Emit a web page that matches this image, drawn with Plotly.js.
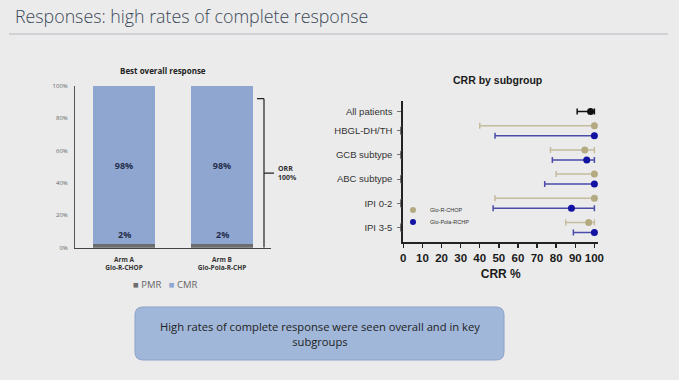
<!DOCTYPE html>
<html>
<head>
<meta charset="utf-8">
<script src="https://cdn.plot.ly/plotly-3.0.1.min.js"></script>
<style>html,body{margin:0;padding:0;background:#ebebeb;}#chart{width:679px;height:380px;}</style>
</head>
<body>
<div id="chart"></div>
<script>
// ---- Left chart data: best overall response ----
var arms = ["Arm A<br>Glo-R-CHOP", "Arm B<br>Glo-Pola-R-CHP"];
var pmr = [2, 2];
var cmr = [98, 98];
var orrTop = 92; // bracket top level
var yTicksLeft = [0, 20, 40, 60, 80, 100];
var yTickTextLeft = ["0%", "20%", "40%", "60%", "80%", "100%"];

// ---- Right chart data: CRR by subgroup ----
var subgroups = ["All patients", "HBGL-DH/TH", "GCB subtype", "ABC subtype", "IPI 0-2", "IPI 3-5"];
var allPt = [98], allLo = [91], allHi = [100];
var rchopGroups = ["HBGL-DH/TH", "GCB subtype", "ABC subtype", "IPI 0-2", "IPI 3-5"];
var rchopPt = [100, 95, 100, 100, 97];
var rchopLo = [40, 77, 80, 48, 85];
var rchopHi = [100, 100, 100, 100, 100];
var polaPt = [100, 96, 100, 88, 100];
var polaLo = [48, 78, 74, 47, 89];
var polaHi = [100, 100, 100, 100, 100];
var xTicksRight = [0, 10, 20, 30, 40, 50, 60, 70, 80, 90, 100];

// ---- helpers ----
var W = 679, H = 380;
function px(x) { return x / W; }
function py(y) { return 1 - y / H; }
var OFF = 0.207;
function gIndex(name) { return subgroups.indexOf(name); }
function diff(a, b) { return a.map(function (v, i) { return v - b[i]; }); }

var rchopY = rchopGroups.map(function (g) { return -gIndex(g) + OFF; });
var polaY = rchopGroups.map(function (g) { return -gIndex(g) - OFF; });
var allY = [-gIndex("All patients") - OFF];
var tickVals = subgroups.map(function (g, i) { return i === 0 ? allY[0] : -i; });

var ARIAL = "Liberation Sans, Arial, sans-serif";
var CAL = "Open Sans, sans-serif";

var COL = {pmr: "#6d6d6d", cmr: "#8fa6d1", rchop: "#b3aa82", rchopBar: "#c4bc9c", pola: "#1212a3", polaBar: "#4b4bab"};

var traces = [
  {type: "bar", x: arms, y: pmr, name: "PMR", xaxis: "x", yaxis: "y",
   marker: {color: COL.pmr}, showlegend: false, hoverinfo: "skip"},
  {type: "bar", x: arms, y: cmr, name: "CMR", xaxis: "x", yaxis: "y",
   marker: {color: COL.cmr}, showlegend: false,
   text: cmr.map(function (v) { return v + "%"; }), textposition: "inside",
   insidetextanchor: "middle", textangle: 0,
   textfont: {family: CAL, size: 9, color: "#26304c", weight: "bold"}, hoverinfo: "skip"},
  {type: "scatter", mode: "markers", name: "All patients", showlegend: false,
   x: allPt, y: allY, xaxis: "x2", yaxis: "y2", cliponaxis: false,
   marker: {color: "#111111", size: 7},
   error_x: {type: "data", symmetric: false, array: diff(allHi, allPt), arrayminus: diff(allPt, allLo),
             color: "#111111", thickness: 1.5, width: 3}},
  {type: "scatter", mode: "markers", name: "Glo-R-CHOP", showlegend: false,
   x: rchopPt, y: rchopY, xaxis: "x2", yaxis: "y2", cliponaxis: false,
   marker: {color: COL.rchop, size: 7},
   error_x: {type: "data", symmetric: false, array: diff(rchopHi, rchopPt), arrayminus: diff(rchopPt, rchopLo),
             color: COL.rchopBar, thickness: 1.5, width: 3}},
  {type: "scatter", mode: "markers", name: "Glo-Pola-RCHP", showlegend: false,
   x: polaPt, y: polaY, xaxis: "x2", yaxis: "y2", cliponaxis: false,
   marker: {color: COL.pola, size: 7},
   error_x: {type: "data", symmetric: false, array: diff(polaHi, polaPt), arrayminus: diff(polaPt, polaLo),
             color: COL.polaBar, thickness: 1.5, width: 3}}
];

// shapes
var shapes = [
  {type: "line", xref: "paper", yref: "paper", x0: px(9), x1: px(668), y0: py(34), y1: py(34),
   line: {color: "#c6c9cd", width: 1.5}},
  {type: "line", xref: "paper", yref: "y", x0: px(257), x1: px(264), y0: orrTop, y1: orrTop, line: {color: "#222", width: 1.2}},
  {type: "line", xref: "paper", yref: "y", x0: px(264), x1: px(264), y0: orrTop, y1: 0, line: {color: "#222", width: 1.2}},
  {type: "line", xref: "paper", yref: "y", x0: px(264), x1: px(274), y0: orrTop / 2, y1: orrTop / 2, line: {color: "#222", width: 1.2}},
  // legend swatches of the subgroup chart
  {type: "circle", xref: "paper", yref: "paper", x0: px(410), x1: px(416), y0: py(213), y1: py(207),
   fillcolor: COL.rchop, line: {width: 0}},
  {type: "circle", xref: "paper", yref: "paper", x0: px(410), x1: px(416), y0: py(225), y1: py(219),
   fillcolor: COL.pola, line: {width: 0}}
];
rchopGroups.forEach(function (g, i) {
  var yt = rchopY[i] - 0.05, yb = polaY[i] + 0.05;
  shapes.push({type: "path", xref: "paper", yref: "y2",
    path: "M " + px(402) + "," + yt + " L " + px(400.5) + "," + yt + " L " + px(400.5) + "," + yb + " L " + px(402) + "," + yb,
    line: {color: "#555", width: 0.8}});
});
(function () {
  var x0 = px(135), x1 = px(504), y0 = py(360), y1 = py(307), rx = px(8), ry = 8 / H;
  var p = "M " + (x0 + rx) + "," + y1 + " L " + (x1 - rx) + "," + y1 +
    " Q " + x1 + "," + y1 + " " + x1 + "," + (y1 - ry) +
    " L " + x1 + "," + (y0 + ry) + " Q " + x1 + "," + y0 + " " + (x1 - rx) + "," + y0 +
    " L " + (x0 + rx) + "," + y0 + " Q " + x0 + "," + y0 + " " + x0 + "," + (y0 + ry) +
    " L " + x0 + "," + (y1 - ry) + " Q " + x0 + "," + y1 + " " + (x0 + rx) + "," + y1 + " Z";
  shapes.push({type: "path", xref: "paper", yref: "paper", path: p,
    fillcolor: "#a0b7d9", line: {color: "#8aa2c8", width: 1}, layer: "below"});
})();

function sw(color, glyph) { return "<span style='color:" + color + "'>" + glyph + "</span>"; }

var annotations = [
  {text: "Responses: high rates of complete response", xref: "paper", yref: "paper",
   x: px(13), y: py(2), xanchor: "left", yanchor: "top", showarrow: false,
   font: {family: CAL, size: 17.8, color: "#3a4858", weight: 300}},
  {text: "<b>Best overall response</b>", xref: "paper", yref: "paper", x: px(163), y: py(70),
   xanchor: "center", yanchor: "middle", showarrow: false, font: {family: CAL, size: 8, color: "#222"}},
  {text: "<b>ORR<br>100%</b>", xref: "paper", yref: "y", x: px(276), y: orrTop / 2,
   xanchor: "left", yanchor: "middle", align: "left", showarrow: false, font: {family: CAL, size: 7, color: "#333"}},
  {text: "<b>CRR by subgroup</b>", xref: "paper", yref: "paper", x: px(498), y: py(80),
   xanchor: "center", yanchor: "middle", showarrow: false, font: {family: ARIAL, size: 10.5, color: "#1a1a1a"}},
  {text: "High rates of complete response were seen overall and in key<br>subgroups", xref: "paper", yref: "paper",
   x: px(320), y: py(334), xanchor: "center", yanchor: "middle", showarrow: false,
   font: {family: CAL, size: 11.2, color: "#222"}},
  // legend of the bar chart
  {text: sw(COL.pmr, "■") + " PMR   " + sw(COL.cmr, "■") + " CMR", xref: "paper", yref: "paper",
   x: px(164.5), y: py(284), xanchor: "center", yanchor: "middle", showarrow: false,
   font: {family: CAL, size: 9.5, color: "#666"}},
  // legend labels of the subgroup chart
  {text: traces[3].name, xref: "paper", yref: "paper", x: px(428), y: py(210),
   xanchor: "left", yanchor: "middle", showarrow: false, font: {family: ARIAL, size: 5.5, color: "#333"}},
  {text: traces[4].name, xref: "paper", yref: "paper", x: px(428), y: py(222),
   xanchor: "left", yanchor: "middle", showarrow: false, font: {family: ARIAL, size: 5.5, color: "#333"}}
];
arms.forEach(function (a, i) {
  annotations.push({text: "<b>" + pmr[i] + "%</b>", x: a, y: pmr[i], xref: "x", yref: "y",
    yanchor: "bottom", yshift: 1, showarrow: false, font: {family: CAL, size: 9, color: "#26304c"}});
});

var layout = {
  width: W, height: H, margin: {l: 0, r: 0, t: 0, b: 0},
  paper_bgcolor: "#ebebeb", plot_bgcolor: "rgba(0,0,0,0)",
  barmode: "stack", bargap: 0.37,
  showlegend: false,
  xaxis: {domain: [px(75), px(271)], range: [-0.5, 1.5], showline: true, linecolor: "#444", linewidth: 1.5,
    ticks: "", ticklabelstandoff: 5, tickfont: {family: CAL, size: 6.5, color: "#333", weight: "bold"}},
  yaxis: {domain: [py(247.7), py(85.7)], range: [0, 100], tickvals: yTicksLeft, ticktext: yTickTextLeft,
    showline: true, linecolor: "#555", linewidth: 1, showgrid: false, zeroline: false, ticks: "",
    ticklabelstandoff: 5, tickfont: {family: CAL, size: 6, color: "#666"}},
  xaxis2: {domain: [px(403.3), px(598.2)], range: [0, 102], anchor: "y2", tickvals: xTicksRight,
    showline: true, linecolor: "#222", linewidth: 2, ticks: "outside", ticklen: 4, tickwidth: 1.5, tickcolor: "#222",
    showgrid: false, zeroline: false,
    tickfont: {family: ARIAL, size: 11.5, color: "#1a1a1a", weight: "bold"},
    title: {text: "CRR %", font: {family: ARIAL, size: 12, color: "#1a1a1a", weight: "bold"}, standoff: 7}},
  yaxis2: {domain: [py(241.7), py(100.7)], range: [-5.587, 0.24], anchor: "x2", tickvals: tickVals, ticktext: subgroups,
    showline: true, linecolor: "#222", linewidth: 2, ticks: "outside", ticklen: 4, tickwidth: 0.8, tickcolor: "#555",
    showgrid: false, zeroline: false, ticklabelstandoff: 3,
    tickfont: {family: ARIAL, size: 9.5, color: "#333"}},
  shapes: shapes,
  annotations: annotations
};

Plotly.newPlot("chart", traces, layout, {staticPlot: true, displayModeBar: false});
</script>
</body>
</html>
